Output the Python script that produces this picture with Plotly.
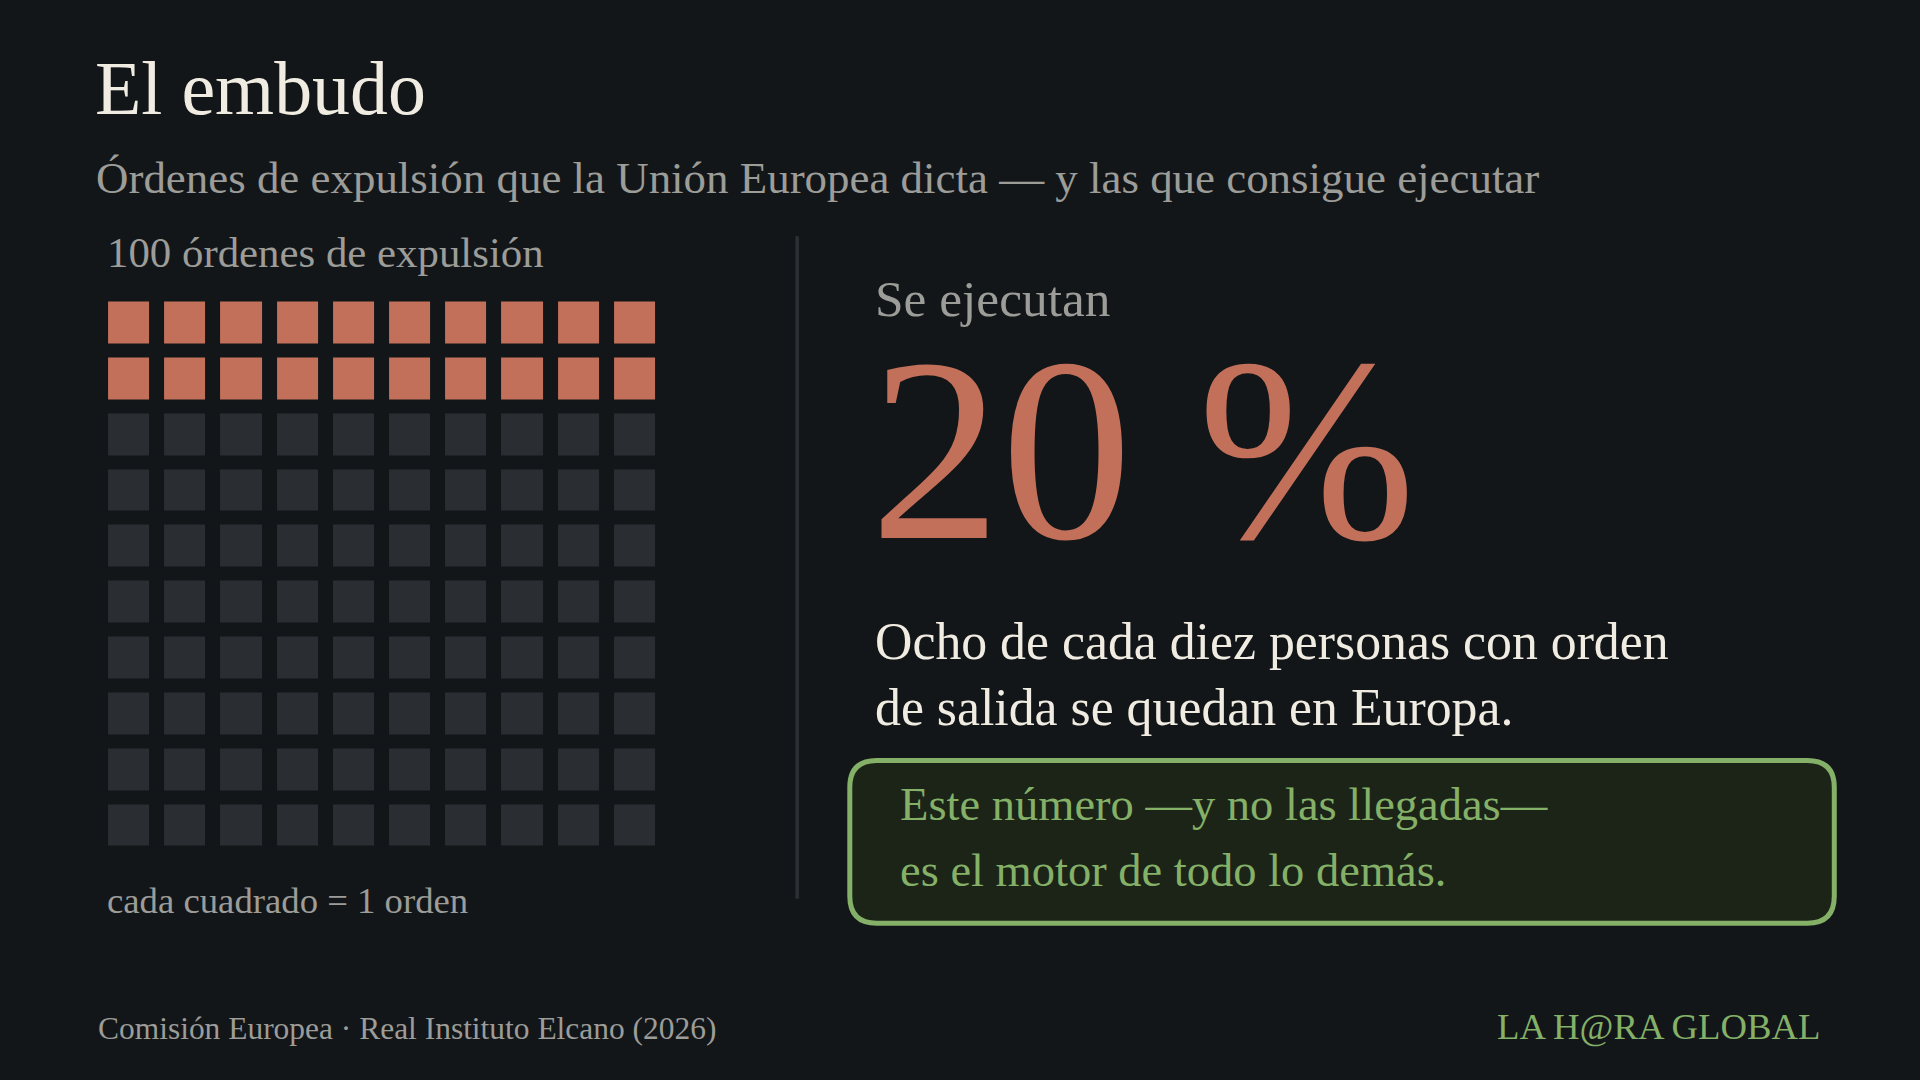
import plotly.graph_objects as go

W, H = 1568, 882  # reference coordinate space
def px(x): return x / W
def py(y): return 1 - y / H
S = 1920 / 1568

total_orders = 100
executed = 20
cols = 10
rows = 10

BG = "#131619"
ORANGE = "#C2705A"
GREY_CELL = "#2A2E33"
GREY_TXT = "#9C9C98"
WHITE = "#F0ECE2"
GREEN = "#84B068"
FONT = "Liberation Serif"

z = [[1 if r * cols + c < executed else 0 for c in range(cols)] for r in range(rows)]

fig = go.Figure()
fig.add_trace(go.Heatmap(
    z=z, x=list(range(cols)), y=list(range(rows)),
    colorscale=[[0, GREY_CELL], [1, ORANGE]], zmin=0, zmax=1,
    showscale=False, xgap=15, ygap=14, hoverinfo="skip"))

fig.update_layout(
    width=1920, height=1080, paper_bgcolor=BG, plot_bgcolor=BG,
    margin=dict(l=0, r=0, t=0, b=0), showlegend=False,
    xaxis=dict(domain=[px(88 - 5.5), px(536 + 5.5)], range=[-0.5, 9.5], visible=False, fixedrange=True),
    yaxis=dict(domain=[py(691 + 5.5), py(246 - 5.5)], range=[9.5, -0.5], visible=False, fixedrange=True),
)

def ann(text, x, y, size, color, xanchor="left", yanchor="middle"):
    fig.add_annotation(text=text, x=px(x), y=py(y), xref="paper", yref="paper",
                       xanchor=xanchor, yanchor=yanchor, showarrow=False, align="left",
                       font=dict(family=FONT, size=size * S, color=color))

ann("El embudo", 76, 72, 62, WHITE)
ann("Órdenes de expulsión que la Unión Europea dicta — y las que consigue ejecutar", 77, 145, 36.7, GREY_TXT)
ann(f"{total_orders} órdenes de expulsión", 86, 206, 35, GREY_TXT)
ann("cada cuadrado = 1 orden", 86, 735, 30, GREY_TXT)
ann("Se ejecutan", 713, 244, 42, GREY_TXT)
ann(f"{executed} %", 709, 367, 214, ORANGE)
ann("Ocho de cada diez personas con orden", 713, 524, 42.3, WHITE)
ann("de salida se quedan en Europa.", 713, 578, 42.3, WHITE)
ann("Este número —y no las llegadas—", 733, 657, 38, GREEN)
ann("es el motor de todo lo demás.", 733, 711, 38, GREEN)
ann("Comisión Europea · Real Instituto Elcano (2026)", 78, 840, 25.7, GREY_TXT)
ann("LA H@RA GLOBAL", 1489, 838, 30, GREEN, xanchor="right")

# divider
fig.add_shape(type="line", xref="paper", yref="paper", x0=px(651), x1=px(651), y0=py(193), y1=py(734),
              line=dict(color="#2C3035", width=3.5))

# rounded box
x0, x1, y0, y1 = px(694), px(1498), py(621), py(754)
rx, ry = 22 / W, 22 / H
path = (f"M {x0+rx},{y0} L {x1-rx},{y0} Q {x1},{y0} {x1},{y0-ry} "
        f"L {x1},{y1+ry} Q {x1},{y1} {x1-rx},{y1} L {x0+rx},{y1} "
        f"Q {x0},{y1} {x0},{y1+ry} L {x0},{y0-ry} Q {x0},{y0} {x0+rx},{y0} Z")
fig.add_shape(type="path", path=path, xref="paper", yref="paper",
              fillcolor="#1C2418", line=dict(color=GREEN, width=5), layer="below")

fig.write_html("out.html", config={"displayModeBar": False})

# remove the default page margin so the figure fills the window
with open("out.html", encoding="utf-8") as f:
    html = f.read()
html = html.replace("<head>", "<head><style>html,body{margin:0;padding:0;background:#131619;overflow:hidden}</style>", 1)
with open("out.html", "w", encoding="utf-8") as f:
    f.write(html)
